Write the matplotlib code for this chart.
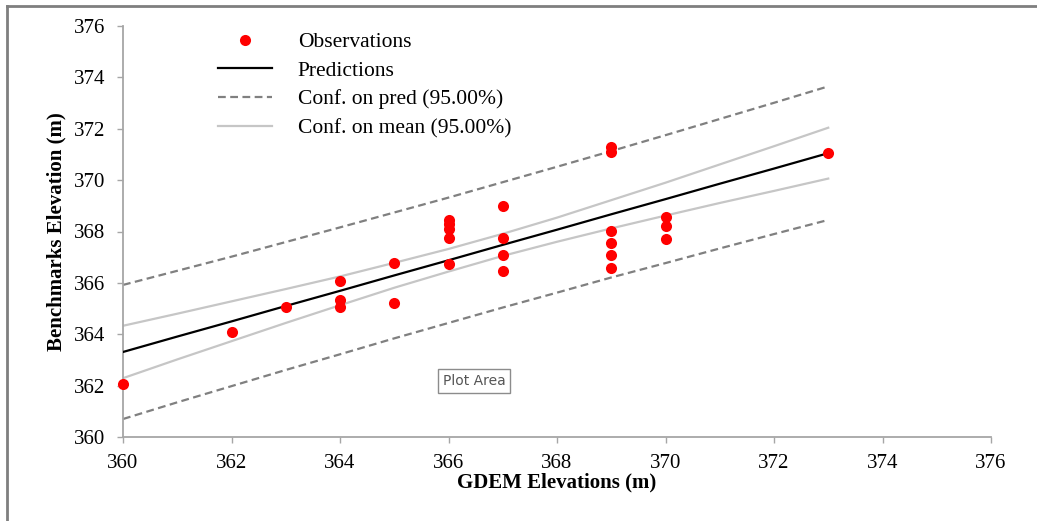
import matplotlib
matplotlib.use("Agg")
import matplotlib.pyplot as plt
from matplotlib.lines import Line2D
import numpy as np

# ---- data ----
obs_x = [360, 362, 363, 364, 364, 364, 365, 365,
         366, 366, 366, 366, 366,
         367, 367, 367, 367,
         369, 369, 369, 369, 369, 369,
         370, 370, 370, 373]
obs_y = [362.06, 364.07, 365.05, 366.08, 365.33, 365.05, 366.77, 365.20,
         368.45, 368.30, 368.10, 367.73, 366.75,
         369.00, 367.73, 367.09, 366.45,
         371.28, 371.08, 368.03, 367.54, 367.09, 366.57,
         368.58, 368.23, 367.71, 371.07]

grid_x = [360, 361, 362, 363, 364, 365, 366, 367, 368, 369, 370, 371, 372, 373]
pred_y = [363.31, 363.91, 364.50, 365.10, 365.69, 366.29, 366.88, 367.48,
          368.07, 368.67, 369.26, 369.86, 370.45, 371.05]
mean_upper = [364.33, 364.80, 365.28, 365.76, 366.25, 366.78, 367.32, 367.91,
              368.54, 369.22, 369.90, 370.61, 371.32, 372.04]
mean_lower = [362.29, 363.02, 363.73, 364.44, 365.13, 365.81, 366.44, 367.05,
              367.60, 368.12, 368.62, 369.11, 369.58, 370.06]
predint_upper = [365.92, 366.47, 367.02, 367.59, 368.16, 368.74, 369.32, 369.92,
                 370.52, 371.13, 371.75, 372.38, 373.01, 373.65]
predint_lower = [360.70, 361.35, 361.98, 362.61, 363.22, 363.84, 364.44, 365.04,
                 365.62, 366.21, 366.77, 367.34, 367.90, 368.45]

x_ticks = [360, 362, 364, 366, 368, 370, 372, 374, 376]
y_ticks = [360, 362, 364, 366, 368, 370, 372, 374, 376]

# ---- style ----
serif = ["Liberation Serif", "DejaVu Serif"]
plt.rcParams["font.family"] = serif

fig = plt.figure(figsize=(10.37, 5.21), dpi=100)
ax = fig.add_axes([123/1037, 1-437/521, (991-123)/1037, (437-26)/521])

dash_col = "#808080"
mean_col = "#C6C6C6"
axis_col = "#A6A6A6"
dash_pat = (3.5, 2)

ax.plot(grid_x, predint_upper, color=dash_col, lw=1.6, dashes=dash_pat, zorder=2)
ax.plot(grid_x, predint_lower, color=dash_col, lw=1.6, dashes=dash_pat, zorder=2)
ax.plot(grid_x, mean_upper, color=mean_col, lw=1.6, zorder=2)
ax.plot(grid_x, mean_lower, color=mean_col, lw=1.6, zorder=2)
ax.plot(grid_x, pred_y, color="black", lw=1.6, zorder=3)
ax.plot(obs_x, obs_y, linestyle="none", marker="o", color="#FF0000",
        markersize=8, markeredgewidth=0, zorder=4, clip_on=False)

ax.set_xlim(360, 376)
ax.set_ylim(360, 376)
ax.set_xticks(x_ticks)
ax.set_yticks(y_ticks)
ax.set_xticklabels([str(v) for v in x_ticks])
ax.set_yticklabels([str(v) for v in y_ticks])

for s in ["top", "right"]:
    ax.spines[s].set_visible(False)
for s in ["left", "bottom"]:
    ax.spines[s].set_color(axis_col)
    ax.spines[s].set_linewidth(1.3)
ax.tick_params(axis="both", direction="out", length=4, width=1.0,
               color=axis_col, labelsize=15, labelcolor="black", pad=9)
ax.tick_params(axis="x", pad=8)

ax.set_xlabel("GDEM Elevations (m)", fontsize=15, fontweight="bold", labelpad=0)
ax.set_ylabel("Benchmarks Elevation (m)", fontsize=15, fontweight="bold", labelpad=5)

handles = [
    Line2D([], [], linestyle="none", marker="o", color="#FF0000", markersize=8,
           markeredgewidth=0),
    Line2D([], [], color="black", lw=1.6),
    Line2D([], [], color=dash_col, lw=1.6, dashes=dash_pat),
    Line2D([], [], color=mean_col, lw=1.6),
]
labels = ["Observations", "Predictions", "Conf. on pred (95.00%)",
          "Conf. on mean (95.00%)"]
ax.legend(handles, labels, loc="upper left",
          bbox_to_anchor=((218-123)/868, (437-32)/411),
          frameon=False, fontsize=15.5, handlelength=2.5, handletextpad=1.2,
          labelspacing=0.4, borderpad=0, borderaxespad=0)

# "Plot Area" tooltip label
ax.text((474-123)/868, (437-381)/411, "Plot Area", transform=ax.transAxes,
        ha="center", va="center", fontsize=10, color="#555555",
        family=["DejaVu Sans"],
        bbox=dict(boxstyle="square,pad=0.35", fc="white", ec="#8C8C8C", lw=1.0))

# outer frame lines (top and left)
fig.add_artist(Line2D([7/1037, 1.0], [1-6/521, 1-6/521], transform=fig.transFigure,
                      color="#7F7F7F", lw=2))
fig.add_artist(Line2D([7/1037, 7/1037], [0.0, 1-6/521], transform=fig.transFigure,
                      color="#7F7F7F", lw=2))

fig.savefig("out.png", dpi=100)
